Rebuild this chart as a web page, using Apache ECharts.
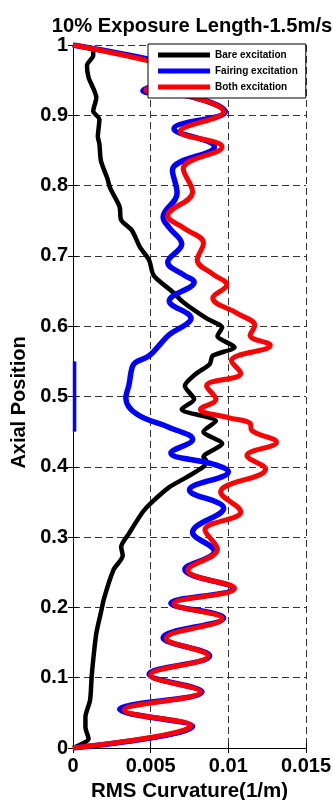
<!DOCTYPE html>
<html>
<head>
<meta charset="utf-8">
<script src="https://cdn.jsdelivr.net/npm/echarts@6/dist/echarts.min.js"></script>
<style>html,body{margin:0;padding:0;background:#fff}#c{width:333px;height:800px}</style>
</head>
<body>
<div id="c"></div>
<script>
// ---- data ----
const titleText = '10% Exposure Length-1.5m/s';
const xAxisName = 'RMS Curvature(1/m)';
const yAxisName = 'Axial Position';
const seriesNames = ['Bare excitation', 'Fairing excitation', 'Both excitation'];
const xTickLabels = ['0', '0.005', '0.01', '0.015'];
const yTickLabels = ['0', '0.1', '0.2', '0.3', '0.4', '0.5', '0.6', '0.7', '0.8', '0.9', '1'];

const bareY = [0.000,0.013,0.030,0.044,0.068,0.101,0.125,0.163,0.193,0.213,0.253,0.274,0.286,0.305,0.336,0.348,0.371,0.385,0.400,0.408,0.414,0.433,0.450,0.465,0.482,0.496,0.515,0.532,0.546,0.558,0.570,0.586,0.598,0.611,0.634,0.649,0.672,0.694,0.713,0.736,0.751,0.770,0.796,0.811,0.835,0.859,0.870,0.894,0.906,0.925,0.954,0.971,0.985,0.993,1.000];
const bareX = [0.0000,0.0010,0.0008,0.0008,0.0011,0.0012,0.0013,0.0015,0.0018,0.0020,0.0026,0.0032,0.0031,0.0036,0.0045,0.0050,0.0062,0.0073,0.0084,0.0086,0.0084,0.0096,0.0084,0.0092,0.0070,0.0078,0.0072,0.0079,0.0088,0.0090,0.0104,0.0093,0.0096,0.0086,0.0071,0.0064,0.0052,0.0049,0.0043,0.0038,0.0031,0.0030,0.0024,0.0022,0.0018,0.0017,0.0016,0.0017,0.0013,0.0015,0.0010,0.0009,0.0013,0.0013,0.0000];

const fairY = [0.000,0.031,0.055,0.080,0.105,0.131,0.157,0.185,0.206,0.227,0.254,0.280,0.307,0.341,0.367,0.393,0.404,0.420,0.439,0.456,0.475,0.498,0.516,0.541,0.548,0.558,0.574,0.588,0.603,0.611,0.636,0.663,0.672,0.691,0.717,0.740,0.755,0.789,0.822,0.855,0.881,0.905,0.926,0.935,0.948,0.963,0.979,1.000];
const fairX = [0.0000,0.0077,0.0030,0.0083,0.0049,0.0088,0.0058,0.0097,0.0063,0.0103,0.0072,0.0091,0.0077,0.0097,0.0075,0.0100,0.0090,0.0063,0.0077,0.0062,0.0041,0.0034,0.0036,0.0038,0.0040,0.0049,0.0056,0.0062,0.0073,0.0076,0.0062,0.0078,0.0072,0.0061,0.0070,0.0062,0.0058,0.0067,0.0064,0.0091,0.0065,0.0098,0.0077,0.0045,0.0060,0.0076,0.0050,0.0000];

const bothY = [0.000,0.032,0.054,0.080,0.104,0.131,0.156,0.184,0.205,0.227,0.253,0.283,0.310,0.336,0.364,0.397,0.416,0.435,0.452,0.462,0.470,0.482,0.496,0.515,0.533,0.551,0.573,0.587,0.601,0.618,0.640,0.659,0.674,0.694,0.718,0.740,0.757,0.791,0.824,0.855,0.877,0.905,0.926,0.936,0.948,0.962,0.978,1.000];
const bothX = [0.0000,0.0076,0.0033,0.0082,0.0050,0.0087,0.0060,0.0096,0.0065,0.0104,0.0074,0.0093,0.0085,0.0108,0.0095,0.0124,0.0112,0.0131,0.0115,0.0114,0.0100,0.0082,0.0092,0.0086,0.0108,0.0102,0.0127,0.0114,0.0117,0.0106,0.0090,0.0099,0.0090,0.0080,0.0084,0.0071,0.0061,0.0077,0.0071,0.0096,0.0069,0.0097,0.0077,0.0047,0.0060,0.0075,0.0048,0.0000];

const exposureX = [0.0001, 0.0001];
const exposureY = [0.45, 0.55];

// ---- chart ----
const pair = (xs, ys) => xs.map((x, i) => [x, ys[i]]);
const FONT = "'Liberation Sans', Arial, sans-serif";
const chart = echarts.init(document.getElementById('c'), null, {renderer: 'canvas'});
const gridDash = {show: true, lineStyle: {color: '#333', type: [7, 4], width: 1}};
chart.setOption({
  animation: false,
  backgroundColor: '#fff',
  title: {
    text: titleText, left: 187, top: 11, textAlign: 'center',
    textStyle: {fontFamily: FONT, fontSize: 20.2, fontWeight: 'bold', color: '#000'}
  },
  grid: {left: 73, right: 27, top: 45, bottom: 52, containLabel: false, outerBoundsMode: 'none'},
  legend: {
    orient: 'vertical', left: 148, top: 44, z: 20, zlevel: 1,
    backgroundColor: '#ffffff', borderColor: '#000', borderWidth: 1, borderRadius: 0,
    padding: [4, 8, 4, 10], itemGap: 2, itemWidth: 52, itemHeight: 5,
    textStyle: {fontFamily: FONT, fontSize: 10, fontWeight: 'bold', color: '#000', lineHeight: 14},
    data: [
      {name: seriesNames[0], icon: 'rect', itemStyle: {color: '#000'}},
      {name: seriesNames[1], icon: 'rect', itemStyle: {color: '#0000ff'}},
      {name: seriesNames[2], icon: 'rect', itemStyle: {color: '#ff0000'}}
    ]
  },
  xAxis: [{
    type: 'value', min: 0, max: 0.015, interval: 0.005, position: 'bottom',
    name: xAxisName, nameLocation: 'middle', nameGap: 31,
    nameTextStyle: {fontFamily: FONT, fontSize: 20.5, fontWeight: 'bold', color: '#000'},
    axisLine: {show: true, lineStyle: {color: '#000', width: 1}},
    axisTick: {show: true, inside: true, length: 5, lineStyle: {color: '#000'}},
    axisLabel: {
      margin: 8, fontFamily: FONT, fontSize: 20, fontWeight: 'bold', color: '#000',
      formatter: v => xTickLabels[Math.round(v / 0.005)] ?? ''
    },
    splitLine: gridDash
  }, {
    type: 'value', min: 0, max: 0.015, interval: 0.005, position: 'top',
    axisLine: {show: true, lineStyle: {color: '#000', width: 1}},
    axisTick: {show: true, inside: true, length: 5, lineStyle: {color: '#000'}},
    axisLabel: {show: false}, splitLine: {show: false}
  }],
  yAxis: [{
    type: 'value', min: 0, max: 1, interval: 0.1, position: 'left',
    name: yAxisName, nameLocation: 'middle', nameGap: 43,
    nameTextStyle: {fontFamily: FONT, fontSize: 20, fontWeight: 'bold', color: '#000', padding: [0, 12, 0, 0]},
    axisLine: {show: true, lineStyle: {color: '#000', width: 1}},
    axisTick: {show: true, inside: true, length: 5, lineStyle: {color: '#000'}},
    axisLabel: {
      margin: 5, fontFamily: FONT, fontSize: 20, fontWeight: 'bold', color: '#000',
      formatter: v => yTickLabels[Math.round(v / 0.1)] ?? ''
    },
    splitLine: gridDash
  }, {
    type: 'value', min: 0, max: 1, interval: 0.1, position: 'right',
    axisLine: {show: true, lineStyle: {color: '#000', width: 1}},
    axisTick: {show: true, inside: true, length: 5, lineStyle: {color: '#000'}},
    axisLabel: {show: false}, splitLine: {show: false}
  }],
  series: [
    {name: seriesNames[0], type: 'line', data: pair(bareX, bareY), showSymbol: false, smooth: 0.25,
     lineStyle: {color: '#000', width: 4.5}, itemStyle: {color: '#000'}, z: 2},
    {name: seriesNames[1], type: 'line', data: pair(fairX, fairY), showSymbol: false, smooth: 0.4,
     lineStyle: {color: '#0000ff', width: 5.5}, itemStyle: {color: '#0000ff'}, z: 2},
    {name: seriesNames[2], type: 'line', data: pair(bothX, bothY), showSymbol: false, smooth: 0.4,
     lineStyle: {color: '#ff0000', width: 5}, itemStyle: {color: '#ff0000'}, z: 2},
    {name: 'exposure', type: 'line', data: pair(exposureX, exposureY), showSymbol: false,
     lineStyle: {color: '#0000ff', width: 3.5}, itemStyle: {color: '#0000ff'}, z: 2, clip: false}
  ]
});
</script>
</body>
</html>
